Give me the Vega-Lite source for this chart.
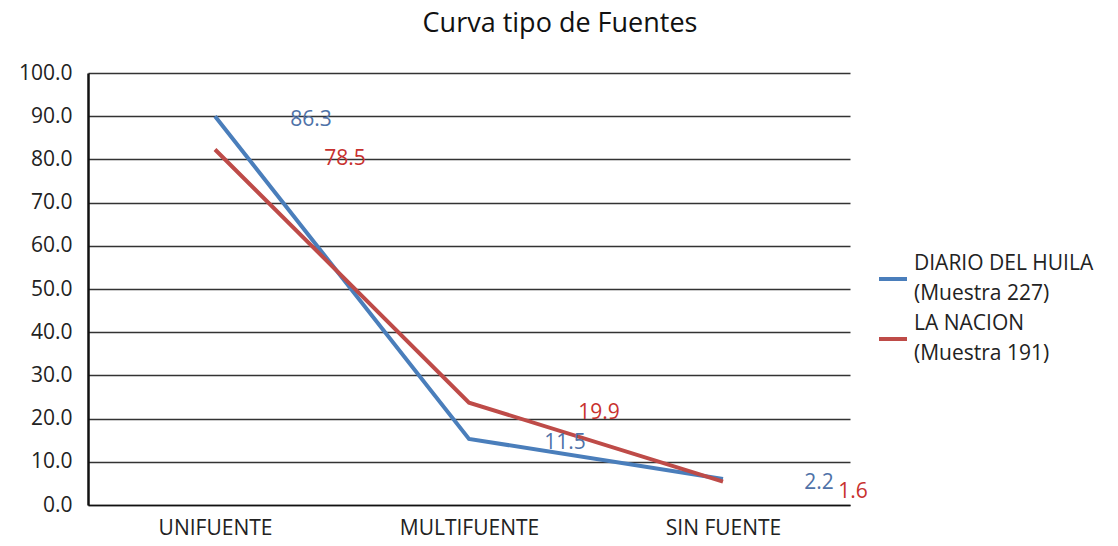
{
  "$schema": "https://vega.github.io/schema/vega-lite/v6.json",
  "width": 762,
  "height": 432,
  "autosize": {"type": "none"},
  "padding": {"left": 88, "top": 73, "right": 268, "bottom": 41},
  "background": "white",
  "title": {
    "text": "Curva tipo de Fuentes",
    "font": "Open Sans",
    "fontSize": 27,
    "fontWeight": "normal",
    "color": "#111111",
    "anchor": "middle",
    "offset": 24,
    "dx": 91
  },
  "config": {
    "view": {"stroke": null},
    "font": "Open Sans"
  },
  "data": {
    "values": [
      {"tipo": "UNIFUENTE", "serie": "DIARIO DEL HUILA|(Muestra 227)", "valor": 90.0, "etiqueta": "86.3"},
      {"tipo": "MULTIFUENTE", "serie": "DIARIO DEL HUILA|(Muestra 227)", "valor": 15.3, "etiqueta": "11.5"},
      {"tipo": "SIN FUENTE", "serie": "DIARIO DEL HUILA|(Muestra 227)", "valor": 6.0, "etiqueta": "2.2"},
      {"tipo": "UNIFUENTE", "serie": "LA NACION|(Muestra 191)", "valor": 82.3, "etiqueta": "78.5"},
      {"tipo": "MULTIFUENTE", "serie": "LA NACION|(Muestra 191)", "valor": 23.7, "etiqueta": "19.9"},
      {"tipo": "SIN FUENTE", "serie": "LA NACION|(Muestra 191)", "valor": 5.4, "etiqueta": "1.6"}
    ]
  },
  "encoding": {
    "x": {
      "field": "tipo",
      "type": "nominal",
      "sort": ["UNIFUENTE", "MULTIFUENTE", "SIN FUENTE"],
      "scale": {"type": "point", "padding": 0.5},
      "axis": {
        "title": null,
        "labelAngle": 0,
        "labelFont": "Open Sans",
        "labelFontSize": 21,
        "labelColor": "#222222",
        "labelPadding": 12,
        "ticks": false,
        "domain": true,
        "domainColor": "#111111",
        "domainWidth": 1.5,
        "grid": false
      }
    },
    "y": {
      "field": "valor",
      "type": "quantitative",
      "scale": {"domain": [0, 100], "nice": false},
      "axis": {
        "title": null,
        "values": [0, 10, 20, 30, 40, 50, 60, 70, 80, 90, 100],
        "format": ".1f",
        "labelFont": "Open Sans",
        "labelFontSize": 21,
        "labelColor": "#222222",
        "labelPadding": 16,
        "ticks": false,
        "domain": true,
        "domainColor": "#111111",
        "domainWidth": 2.5,
        "grid": true,
        "gridColor": "#333333",
        "gridWidth": 1.6,
        "gridOpacity": 1
      }
    }
  },
  "layer": [
    {
      "mark": {"type": "line", "strokeWidth": 4},
      "encoding": {
        "color": {
          "field": "serie",
          "type": "nominal",
          "scale": {
            "domain": ["DIARIO DEL HUILA|(Muestra 227)", "LA NACION|(Muestra 191)"],
            "range": ["#4A7EBB", "#BE4B48"]
          },
          "legend": {
            "title": null,
            "orient": "none",
            "legendX": 789,
            "legendY": 190,
            "symbolType": "stroke",
            "symbolStrokeWidth": 4,
            "symbolSize": 784,
            "labelExpr": "split(datum.label, '|')",
            "labelFont": "Open Sans",
            "labelFontSize": 21,
            "labelColor": "#222222",
            "labelLimit": 300,
            "rowPadding": 9,
            "labelOffset": 5,
            "encode": {
              "labels": {"update": {"lineHeight": {"value": 30}, "dy": {"value": -15}}}
            }
          }
        }
      }
    },
    {
      "transform": [{"filter": "indexof(datum.serie, 'DIARIO') == 0"}],
      "mark": {"type": "text", "dx": 96, "dy": 4, "fontSize": 21, "font": "Open Sans", "color": "#4F72A8"},
      "encoding": {"text": {"field": "etiqueta"}}
    },
    {
      "transform": [{"filter": "indexof(datum.serie, 'LA NACION') == 0"}],
      "mark": {"type": "text", "dx": 130, "dy": 10, "fontSize": 21, "font": "Open Sans", "color": "#C8312E"},
      "encoding": {"text": {"field": "etiqueta"}}
    }
  ]
}
